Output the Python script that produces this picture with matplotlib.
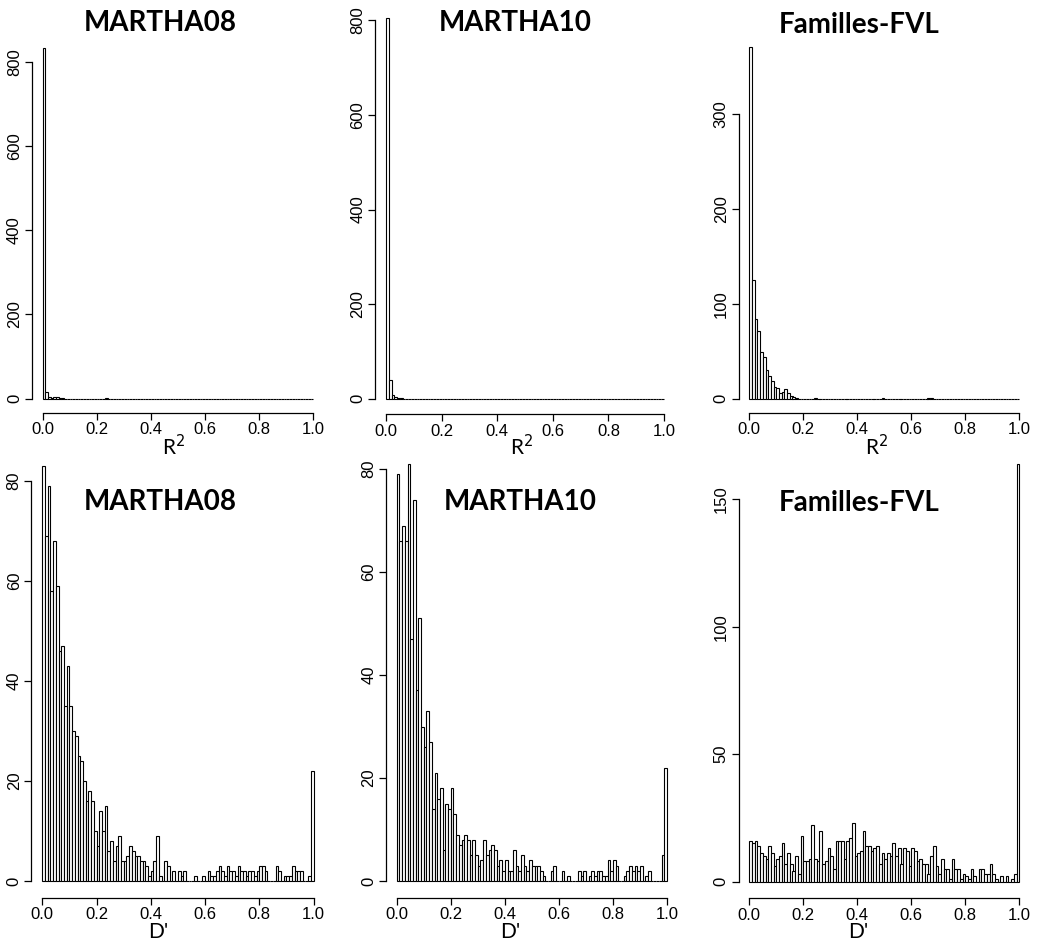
import numpy as np
import matplotlib
matplotlib.use("Agg")
import matplotlib.pyplot as plt

# ===========================================================
# DATA  (counts per 0.01 bin, 100 bins from 0 to 1)
# ===========================================================
BIN_EDGES = np.linspace(0.0, 1.0, 101)

r2_martha08 = [834, 17, 3, 2, 5, 4, 2, 1] + [0] * 15 + [1] + [0] * 76
r2_martha10 = [805, 40, 7, 3, 2, 1] + [0] * 94
r2_fvl = ([370, 125, 84, 71, 49, 44, 30, 24, 19, 12, 11, 6, 7, 10, 6, 3, 2, 1]
          + [0] * 6 + [1] + [0] * 24 + [1] + [0] * 16 + [1, 1] + [0] * 32)

d_martha08 = [83, 69, 79, 58, 68, 59, 46, 47, 35, 43,
              35, 30, 29, 25, 24, 20, 16, 18, 16, 10,
              7, 14, 10, 15, 6, 8, 4, 7, 9, 4,
              4, 5, 7, 6, 5, 5, 4, 4, 3, 1,
              2, 4, 9, 1, 0, 4, 3, 0, 2, 0,
              2, 1, 2, 0, 0, 0, 1, 0, 0, 1,
              0, 2, 1, 1, 2, 3, 2, 1, 3, 2,
              2, 1, 3, 2, 2, 1, 2, 2, 1, 2,
              3, 3, 2, 0, 0, 0, 3, 2, 0, 1,
              1, 1, 3, 2, 2, 2, 0, 0, 1, 22]

d_martha10 = [79, 66, 69, 66, 81, 47, 74, 37, 51, 30,
              26, 33, 27, 14, 21, 16, 18, 6, 15, 14,
              18, 13, 9, 7, 8, 9, 8, 5, 8, 5,
              3, 4, 8, 5, 6, 7, 6, 3, 4, 2,
              4, 2, 2, 6, 3, 2, 5, 3, 2, 4,
              3, 3, 3, 2, 1, 0, 0, 2, 3, 0,
              0, 2, 0, 1, 0, 0, 0, 2, 1, 2,
              0, 1, 2, 1, 2, 2, 1, 1, 4, 2,
              4, 3, 0, 0, 1, 2, 3, 2, 3, 2,
              3, 0, 1, 2, 0, 0, 0, 0, 5, 22]

d_fvl = [16, 15, 16, 14, 11, 10, 9, 14, 11, 6,
         9, 10, 15, 7, 11, 7, 4, 10, 3, 18,
         8, 8, 9, 22, 9, 8, 20, 7, 8, 13,
         10, 5, 16, 16, 16, 9, 16, 17, 23, 10,
         11, 12, 20, 14, 14, 12, 13, 14, 7, 11,
         9, 11, 10, 15, 10, 13, 7, 13, 12, 6,
         13, 12, 8, 9, 7, 7, 3, 10, 14, 6,
         3, 9, 5, 5, 1, 9, 5, 5, 1, 3,
         2, 1, 5, 2, 0, 5, 5, 3, 3, 7,
         3, 1, 0, 2, 0, 2, 0, 1, 3, 164]

titles = ["MARTHA08", "MARTHA10", "Familles-FVL"]
x_ticks = [0.0, 0.2, 0.4, 0.6, 0.8, 1.0]

# ===========================================================
# LAYOUT  (pixel geometry of each panel, figure is 1037 x 942)
# ===========================================================
W, H = 1037, 942
TITLE_FONT = "Lato"

panels = [
    dict(counts=r2_martha08, yticks=[0, 200, 400, 600, 800], x0=42.5, x1=313.5,
         base=398.7, s=0.421, title=(160.5, 23), xlab="R$^2$", xlab_pos=(174, 447)),
    dict(counts=r2_martha10, yticks=[0, 200, 400, 600, 800], x0=386, x1=664,
         base=398.7, s=0.473, title=(515, 23), xlab="R$^2$", xlab_pos=(522, 447)),
    dict(counts=r2_fvl, yticks=[0, 100, 200, 300], x0=749.3, x1=1019.3,
         base=398.7, s=0.95, title=(858.7, 25), xlab="R$^2$", xlab_pos=(877, 447)),
    dict(counts=d_martha08, yticks=[0, 20, 40, 60, 80], x0=42.3, x1=313.5,
         base=881, s=5.0, title=(160.5, 502), xlab="D'", xlab_pos=(158, 932)),
    dict(counts=d_martha10, yticks=[0, 20, 40, 60, 80], x0=396.7, x1=667,
         base=881, s=5.15, title=(520.5, 502), xlab="D'", xlab_pos=(510, 932)),
    dict(counts=d_fvl, yticks=[0, 50, 100, 150], x0=749.3, x1=1019.3,
         base=881.5, s=2.548, title=(859, 503), xlab="D'", xlab_pos=(858, 932)),
]
for i, p in enumerate(panels):
    p["title_text"] = titles[i % 3]

fig = plt.figure(figsize=(W / 100, H / 100), dpi=100)

for p in panels:
    counts = np.asarray(p["counts"], dtype=float)
    M = counts.max()
    span = p["x1"] - p["x0"]
    left = p["x0"] - 0.04 * span
    width = 1.08 * span
    bottom_px = p["base"] + 0.04 * M * p["s"]
    height = 1.08 * M * p["s"]
    ax = fig.add_axes([left / W, 1 - bottom_px / H, width / W, height / H])

    ax.bar(BIN_EDGES[:-1], counts, width=0.01, align="edge",
           facecolor="white", edgecolor="black", linewidth=0.8)
    ax.set_xlim(-0.04, 1.04)
    ax.set_ylim(-0.04 * M, 1.04 * M)

    # R-style axes
    for side in ("top", "right"):
        ax.spines[side].set_visible(False)
    ax.spines["left"].set_bounds(p["yticks"][0], p["yticks"][-1])
    ax.spines["bottom"].set_bounds(0, 1)
    ax.spines["left"].set_linewidth(0.9)
    ax.spines["bottom"].set_linewidth(0.9)
    ax.set_xticks(x_ticks)
    ax.set_xticklabels([f"{t:.1f}" for t in x_ticks])
    ax.set_yticks(p["yticks"])
    ax.set_yticklabels([str(t) for t in p["yticks"]], rotation=90, va="center")
    ax.tick_params(axis="both", length=5, width=0.9, labelsize=12, pad=2,
                   colors="black")
    for lab in ax.get_xticklabels() + ax.get_yticklabels():
        lab.set_family("Liberation Sans")
    ax.patch.set_alpha(0)

    fig.text(p["title"][0] / W, 1 - p["title"][1] / H, p["title_text"],
             ha="center", va="center", fontsize=20, fontweight="bold",
             family=TITLE_FONT)
    fig.text(p["xlab_pos"][0] / W, 1 - p["xlab_pos"][1] / H, p["xlab"],
             ha="center", va="center", fontsize=15, family=TITLE_FONT)

fig.savefig("out.png", dpi=100)
